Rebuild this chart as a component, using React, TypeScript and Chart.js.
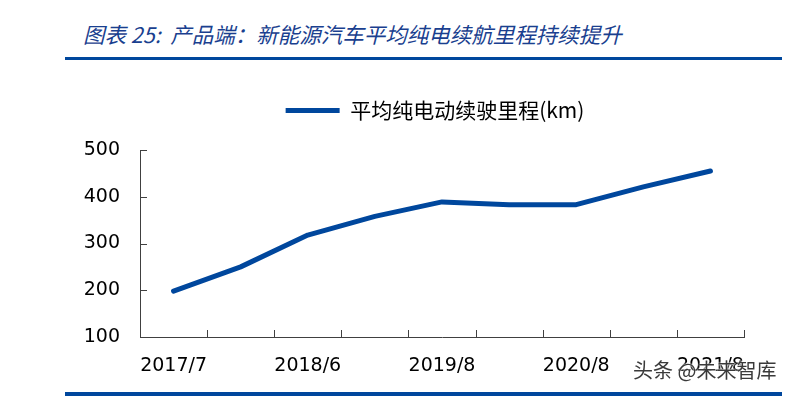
import React, { useEffect, useRef } from "react";
import { Chart, registerables } from "chart.js";

Chart.register(...registerables);

const categories = ["2017/7", "2018/1", "2018/6", "2019/1", "2019/8", "2020/1", "2020/8", "2021/1", "2021/8"];
const rangeValues = [198, 250, 318, 358, 389, 383, 383, 421, 455];
const shownLabels = ["2017/7", "2018/6", "2019/8", "2020/8", "2021/8"];
const seriesName = "平均纯电动续驶里程(km)";
const titleText = "图表 25:  产品端：新能源汽车平均纯电续航里程持续提升";
const watermark = "头条 @未来智库";

const BLUE = "#00479D";
const AXIS = "#404040";

const innerTicks = {
  id: "innerTicks",
  beforeLayout(chart: any) {
    const lg = chart.legend;
    if (lg && !lg.__patched) {
      const orig = lg.fit.bind(lg);
      lg.fit = () => {
        orig();
        lg.height += 19;
      };
      lg.__patched = true;
    }
  },
  afterLayout(chart: any) {
    const lg = chart.legend;
    if (lg) {
      lg.left -= 7;
      lg.right -= 7;
    }
  },
  afterDraw(chart: any) {
    const ctx = chart.ctx;
    const x = chart.scales.x;
    const y = chart.scales.y;
    ctx.save();
    ctx.strokeStyle = AXIS;
    ctx.lineWidth = 1;
    ctx.beginPath();
    for (let i = 0; i <= categories.length; i++) {
      const px = Math.round(x.getPixelForValue(i - 0.5)) + 0.5;
      ctx.moveTo(px, y.bottom);
      ctx.lineTo(px, y.bottom - 7);
    }
    y.ticks.forEach((t: any) => {
      const py = Math.round(y.getPixelForValue(t.value)) + 0.5;
      ctx.moveTo(x.left, py);
      ctx.lineTo(x.left + 7, py);
    });
    ctx.stroke();
    ctx.restore();
  },
};

function ChartView() {
  const ref = useRef<HTMLCanvasElement>(null);
  useEffect(() => {
    if (!ref.current) return;
    const chart = new Chart(ref.current, {
      type: "line",
      data: {
        labels: categories,
        datasets: [
          {
            label: seriesName,
            data: rangeValues,
            borderColor: BLUE,
            backgroundColor: BLUE,
            borderWidth: 5,
            pointRadius: 0,
            tension: 0,
            borderCapStyle: "round",
            borderJoinStyle: "round",
            pointStyle: "line",
          } as any,
        ],
      },
      options: {
        animation: false,
        responsive: false,
        layout: { padding: { left: 0, right: 44, top: 71, bottom: 0 } },
        plugins: {
          legend: {
            display: true,
            position: "top",
            fullSize: false,
            labels: {
              usePointStyle: true,
              pointStyleWidth: 54,
              padding: 29,
              color: "#000",
              font: { family: "'Noto Sans CJK SC', 'Noto Sans', sans-serif", size: 21 },
            },
          },
          tooltip: { enabled: false },
        },
        scales: {
          x: {
            type: "category",
            offset: true,
            afterFit: (s: any) => {
              s.height = 59;
            },
            grid: { display: false, drawTicks: false },
            border: { display: true, color: AXIS, width: 1 },
            ticks: {
              autoSkip: false,
              maxRotation: 0,
              padding: 18,
              color: "#000",
              font: { family: "'DejaVu Sans', sans-serif", size: 19 },
              callback: (_v: any, i: number) => (i % 2 === 0 ? shownLabels[i / 2] : ""),
            },
          },
          y: {
            min: 100,
            max: 500,
            afterFit: (s: any) => {
              s.width = 140;
            },
            grid: { display: false, drawTicks: false },
            border: { display: true, color: AXIS, width: 1 },
            ticks: {
              stepSize: 100,
              padding: 20,
              color: "#000",
              font: { family: "'DejaVu Sans', sans-serif", size: 19 },
            },
          },
        },
      },
      plugins: [innerTicks],
    });
    return () => chart.destroy();
  }, []);
  return <canvas ref={ref} width={788} height={396} style={{ position: "absolute", left: 0, top: 0 }} />;
}

export default function App() {
  return (
    <div style={{ position: "fixed", left: 0, top: 0, width: 788, height: 396, background: "#fff", overflow: "hidden" }}>
      <div
        style={{
          position: "absolute",
          left: 83,
          top: 20,
          fontFamily: "'Noto Sans CJK SC', sans-serif",
          fontStyle: "italic",
          fontSize: 21.5,
          lineHeight: "28px",
          color: "#1A3F8F",
          whiteSpace: "pre",
        }}
      >
        {titleText}
      </div>
      <div style={{ position: "absolute", left: 65, top: 57, width: 717, height: 3, background: BLUE }} />
      <ChartView />
      <div
        style={{
          position: "absolute",
          left: 633,
          top: 359,
          fontFamily: "'Noto Sans CJK SC', sans-serif",
          fontSize: 20,
          lineHeight: "22px",
          color: "#3a3a3a",
          whiteSpace: "pre",
          textShadow: "0 0 2px #fff, 0 0 2px #fff",
        }}
      >
        {watermark}
      </div>
      <div style={{ position: "absolute", left: 65, top: 392, width: 717, height: 4, background: BLUE }} />
    </div>
  );
}
